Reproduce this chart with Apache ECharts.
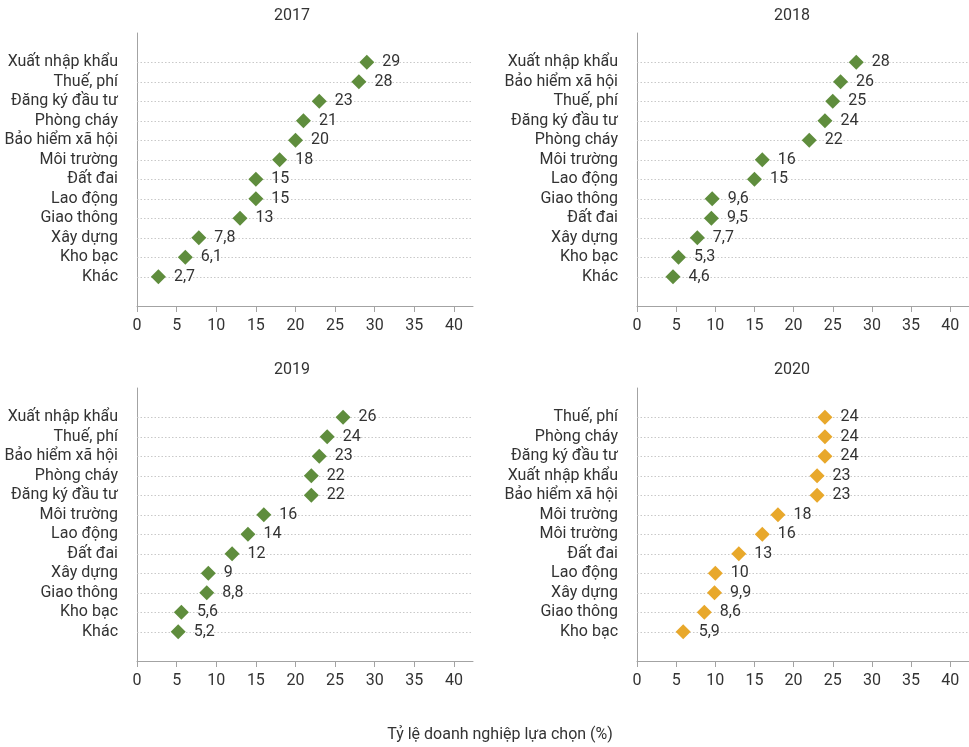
<!DOCTYPE html>
<html>
<head>
<meta charset="utf-8">
<script src="https://cdn.jsdelivr.net/npm/echarts@6/dist/echarts.min.js"></script>
<style>
html,body{margin:0;padding:0;background:#fff;}
#chart{width:969px;height:747px;}
</style>
</head>
<body>
<div id="chart"></div>
<script>
const years = ['2017', '2018', '2019', '2020'];

const cats2017 = ['Xuất nhập khẩu','Thuế, phí','Đăng ký đầu tư','Phòng cháy','Bảo hiểm xã hội','Môi trường','Đất đai','Lao động','Giao thông','Xây dựng','Kho bạc','Khác'];
const vals2017 = [29, 28, 23, 21, 20, 18, 15, 15, 13, 7.8, 6.1, 2.7];

const cats2018 = ['Xuất nhập khẩu','Bảo hiểm xã hội','Thuế, phí','Đăng ký đầu tư','Phòng cháy','Môi trường','Lao động','Giao thông','Đất đai','Xây dựng','Kho bạc','Khác'];
const vals2018 = [28, 26, 25, 24, 22, 16, 15, 9.6, 9.5, 7.7, 5.3, 4.6];

const cats2019 = ['Xuất nhập khẩu','Thuế, phí','Bảo hiểm xã hội','Phòng cháy','Đăng ký đầu tư','Môi trường','Lao động','Đất đai','Xây dựng','Giao thông','Kho bạc','Khác'];
const vals2019 = [26, 24, 23, 22, 22, 16, 14, 12, 9, 8.8, 5.6, 5.2];

const cats2020 = ['Thuế, phí','Phòng cháy','Đăng ký đầu tư','Xuất nhập khẩu','Bảo hiểm xã hội','Môi trường','Môi trường','Đất đai','Lao động','Xây dựng','Giao thông','Kho bạc'];
const vals2020 = [24, 24, 24, 23, 23, 18, 16, 13, 10, 9.9, 8.6, 5.9];

const xTicks = [0, 5, 10, 15, 20, 25, 30, 35, 40];
const axisTitle = 'Tỷ lệ doanh nghiệp lựa chọn (%)';

const colors = ['#5f8d3d', '#5f8d3d', '#5f8d3d', '#e8a82b'];
const panels = [
  {cats: cats2017, vals: vals2017},
  {cats: cats2018, vals: vals2018},
  {cats: cats2019, vals: vals2019},
  {cats: cats2020, vals: vals2020}
];

const FONT = 'Roboto, "Noto Sans", sans-serif';
const gridPos = [
  {left: 137, top: 33},
  {left: 637, top: 33},
  {left: 137, top: 388},
  {left: 637, top: 388}
];
const titlePos = [[292, 16], [792, 16], [292, 370], [792, 370]];

const grids = [], xAxes = [], yAxes = [], series = [], graphics = [];
panels.forEach((p, k) => {
  grids.push({left: gridPos[k].left, top: gridPos[k].top, width: 336, height: 273, containLabel: false});
  xAxes.push({
    type: 'value', gridIndex: k, min: 0, max: 42.4, interval: 5,
    axisLine: {show: true, lineStyle: {color: '#a3a3a3', width: 1}},
    axisTick: {show: true, length: 6, customValues: xTicks, lineStyle: {color: '#a3a3a3'}},
    axisLabel: {customValues: xTicks, color: '#333', fontSize: 16, fontFamily: FONT, margin: 12},
    splitLine: {show: false}
  });
  yAxes.push({
    type: 'category', gridIndex: k, inverse: true, boundaryGap: true,
    data: [''].concat(p.cats, ['']),
    axisLine: {show: true, lineStyle: {color: '#a3a3a3', width: 1}},
    axisTick: {show: false},
    axisLabel: {color: '#333', fontSize: 16, fontFamily: FONT, margin: 19, interval: 0},
    splitLine: {show: false}
  });
  series.push({
    type: 'scatter', xAxisIndex: k, yAxisIndex: k,
    symbol: 'diamond', symbolSize: [15, 15],
    itemStyle: {color: colors[k], opacity: 1},
    data: p.vals.map((v, i) => [v, i + 1]),
    label: {
      show: true, position: 'right', distance: 8,
      color: '#333', fontSize: 16, fontFamily: FONT,
      formatter: (d) => String(d.value[0]).replace('.', ',')
    },
    markLine: {
      silent: true, symbol: 'none', animation: false, z: 1,
      label: {show: false},
      lineStyle: {type: [1.5, 2], color: '#c9c9c9', width: 1},
      emphasis: {disabled: true},
      data: p.cats.map((c, i) => ({yAxis: i + 1}))
    },
    z: 5,
    animation: false
  });
  graphics.push({
    type: 'text', x: titlePos[k][0], y: titlePos[k][1],
    style: {text: years[k], textAlign: 'center', textVerticalAlign: 'middle', font: '16px ' + FONT, fill: '#333'}
  });
});
graphics.push({
  type: 'text', x: 500, y: 735,
  style: {text: axisTitle, textAlign: 'center', textVerticalAlign: 'middle', font: '16px ' + FONT, fill: '#333'}
});

const chart = echarts.init(document.getElementById('chart'), null, {renderer: 'canvas'});
chart.setOption({
  animation: false,
  backgroundColor: '#ffffff',
  grid: grids,
  xAxis: xAxes,
  yAxis: yAxes,
  series: series,
  graphic: graphics
});
</script>
</body>
</html>
